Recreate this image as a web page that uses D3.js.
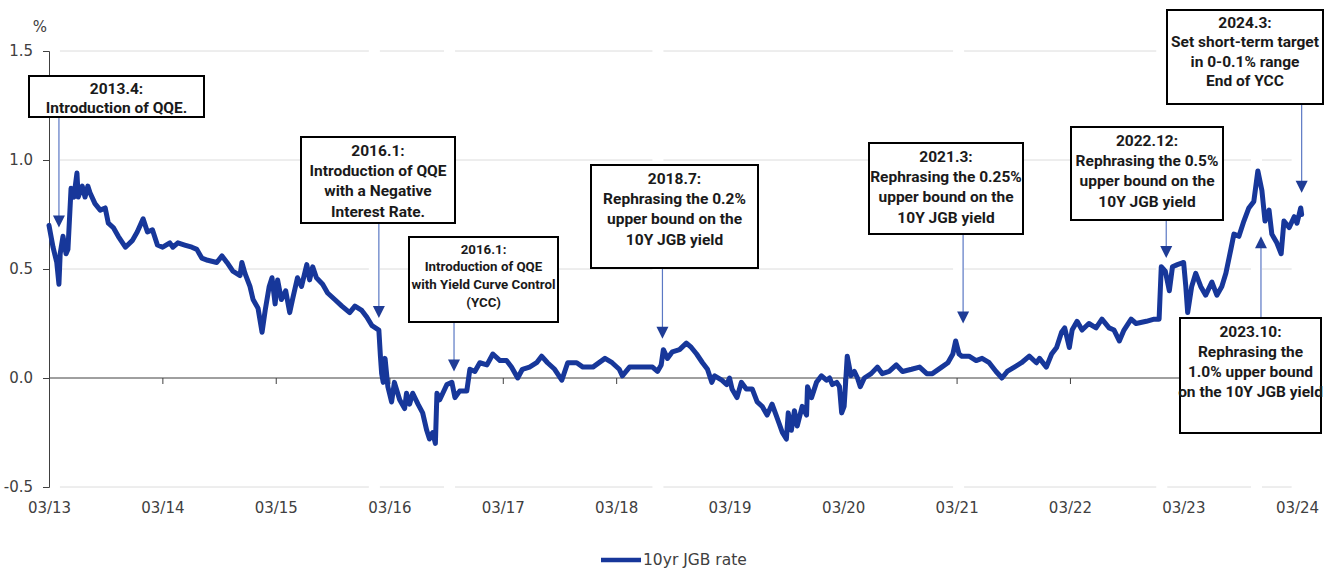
<!DOCTYPE html>
<html>
<head>
<meta charset="utf-8">
<script src="https://cdn.jsdelivr.net/npm/d3@7"></script>
<style>
  body { margin: 0; background: #fff; }
  .tick text { font-family: "DejaVu Sans", sans-serif; font-size: 15px; fill: #404040; }
  .note text { font-family: Roboto, "Noto Sans", sans-serif; font-weight: 700; fill: #1a1a1a; }
</style>
</head>
<body>
<svg id="chart" width="1333" height="569"></svg>
<script>
// 10yr JGB yield
const dates = [
  "2013-03-01","2013-03-14","2013-03-26","2013-04-02","2013-04-06","2013-04-15","2013-04-25","2013-05-01",
  "2013-05-11","2013-05-20","2013-05-30","2013-06-03","2013-06-16","2013-06-25","2013-07-04","2013-07-11",
  "2013-07-27","2013-08-13","2013-08-29","2013-09-08","2013-09-24","2013-10-10","2013-11-02","2013-11-24",
  "2013-12-10","2013-12-29","2014-01-12","2014-01-28","2014-02-13","2014-03-02","2014-03-25","2014-04-04",
  "2014-04-20","2014-05-12","2014-06-04","2014-06-20","2014-07-06","2014-07-25","2014-08-23","2014-09-09",
  "2014-09-25","2014-10-14","2014-11-06","2014-11-12","2014-11-22","2014-12-08","2014-12-18","2015-01-03",
  "2015-01-16","2015-01-26","2015-02-08","2015-02-17","2015-02-27","2015-03-07","2015-03-19","2015-04-02",
  "2015-04-15","2015-04-24","2015-05-10","2015-05-23","2015-06-09","2015-06-18","2015-06-28","2015-07-10",
  "2015-07-30","2015-08-15","2015-09-07","2015-09-30","2015-10-25","2015-11-11","2015-12-03","2015-12-19",
  "2016-01-05","2016-01-27","2016-02-01","2016-02-05","2016-02-10","2016-02-16","2016-02-25","2016-03-08",
  "2016-03-17","2016-04-03","2016-04-19","2016-04-25","2016-05-05","2016-05-15","2016-06-01","2016-06-16",
  "2016-06-29","2016-07-08","2016-07-18","2016-07-27","2016-08-01","2016-08-10","2016-09-02","2016-09-18",
  "2016-09-28","2016-10-13","2016-11-05","2016-11-15","2016-12-01","2016-12-17","2017-01-09","2017-01-28",
  "2017-02-20","2017-03-13","2017-03-29","2017-04-18","2017-05-03","2017-05-26","2017-06-18","2017-07-04",
  "2017-07-23","2017-08-15","2017-09-07","2017-09-26","2017-10-25","2017-11-14","2017-12-16","2018-01-24",
  "2018-02-16","2018-03-11","2018-03-21","2018-04-13","2018-05-15","2018-06-10","2018-06-26","2018-07-12",
  "2018-07-24","2018-07-31","2018-08-13","2018-08-29","2018-09-21","2018-10-13","2018-10-29","2018-11-15",
  "2018-12-04","2018-12-20","2019-01-03","2019-01-12","2019-02-04","2019-02-20","2019-03-01","2019-03-09",
  "2019-03-25","2019-04-08","2019-04-24","2019-05-13","2019-05-29","2019-06-14","2019-06-30","2019-07-16",
  "2019-07-29","2019-08-08","2019-08-18","2019-08-31","2019-09-06","2019-09-16","2019-09-26","2019-10-05",
  "2019-10-21","2019-11-04","2019-11-07","2019-11-20","2019-12-06","2019-12-22","2020-01-07","2020-01-17",
  "2020-01-26","2020-02-09","2020-02-18","2020-02-25","2020-03-04","2020-03-14","2020-03-26","2020-04-06",
  "2020-04-16","2020-04-25","2020-05-08","2020-05-30","2020-06-19","2020-07-05","2020-07-27","2020-08-19",
  "2020-09-08","2020-10-07","2020-11-02","2020-11-25","2020-12-13","2021-01-12","2021-02-01","2021-02-17",
  "2021-02-26","2021-03-09","2021-03-18","2021-04-10","2021-05-03","2021-05-22","2021-06-14","2021-07-06",
  "2021-07-25","2021-08-11","2021-09-03","2021-09-26","2021-10-21","2021-11-13","2021-11-23","2021-12-15",
  "2022-01-01","2022-01-17","2022-02-02","2022-02-12","2022-02-27","2022-03-08","2022-03-24","2022-04-09",
  "2022-05-01","2022-05-24","2022-06-12","2022-07-05","2022-07-21","2022-08-07","2022-08-22","2022-09-14",
  "2022-09-30","2022-11-02","2022-11-27","2022-12-13","2022-12-20","2023-01-02","2023-01-15","2023-01-25",
  "2023-02-10","2023-03-02","2023-03-09","2023-03-15","2023-03-28","2023-04-10","2023-04-26","2023-05-12",
  "2023-06-01","2023-06-17","2023-07-03","2023-07-16","2023-08-01","2023-08-11","2023-08-27","2023-09-12",
  "2023-09-28","2023-10-14","2023-10-27","2023-11-09","2023-11-19","2023-12-02","2023-12-11","2023-12-27",
  "2024-01-10","2024-01-19","2024-02-05","2024-02-21","2024-03-01","2024-03-13","2024-03-16"
];
const jgb10y = [
  0.70,0.60,0.53,0.43,0.57,0.65,0.57,0.59,
  0.87,0.83,0.94,0.83,0.88,0.83,0.88,0.85,
  0.80,0.77,0.78,0.71,0.69,0.65,0.60,0.63,
  0.67,0.73,0.67,0.68,0.61,0.60,0.62,0.60,
  0.62,0.61,0.60,0.59,0.55,0.54,0.53,0.56,
  0.53,0.49,0.47,0.53,0.48,0.42,0.36,0.32,
  0.21,0.31,0.42,0.46,0.34,0.45,0.36,0.40,
  0.30,0.36,0.46,0.42,0.52,0.45,0.51,0.46,
  0.43,0.39,0.36,0.33,0.30,0.33,0.31,0.28,
  0.24,0.22,0.10,0.02,-0.02,0.09,-0.04,-0.11,
  -0.02,-0.10,-0.14,-0.07,-0.12,-0.07,-0.12,-0.16,
  -0.24,-0.28,-0.25,-0.30,-0.07,-0.10,-0.03,-0.02,
  -0.09,-0.06,-0.06,0.04,0.03,0.07,0.06,0.11,
  0.08,0.08,0.05,0.00,0.04,0.05,0.07,0.10,
  0.07,0.04,-0.01,0.07,0.07,0.05,0.05,0.09,
  0.07,0.04,0.01,0.05,0.05,0.05,0.05,0.03,
  0.06,0.13,0.09,0.12,0.13,0.16,0.14,0.11,
  0.07,0.04,-0.02,0.01,-0.01,-0.03,0.00,-0.05,
  -0.09,-0.02,-0.05,-0.05,-0.11,-0.13,-0.17,-0.12,
  -0.17,-0.21,-0.25,-0.28,-0.16,-0.24,-0.15,-0.22,
  -0.13,-0.17,-0.04,-0.09,-0.02,0.01,-0.01,0.00,
  -0.03,-0.02,-0.04,-0.16,-0.13,0.10,0.01,0.03,
  0.00,-0.04,0.00,0.02,0.05,0.02,0.03,0.06,
  0.03,0.04,0.05,0.02,0.02,0.05,0.07,0.11,
  0.17,0.11,0.10,0.10,0.08,0.09,0.07,0.03,
  0.00,0.03,0.05,0.07,0.10,0.07,0.09,0.05,
  0.11,0.14,0.21,0.23,0.14,0.22,0.26,0.22,
  0.25,0.23,0.27,0.23,0.22,0.17,0.22,0.27,
  0.25,0.26,0.27,0.27,0.51,0.49,0.40,0.51,
  0.52,0.53,0.42,0.30,0.42,0.48,0.42,0.38,
  0.44,0.38,0.42,0.48,0.59,0.66,0.65,0.72,
  0.78,0.81,0.95,0.86,0.72,0.77,0.66,0.62,
  0.57,0.72,0.69,0.74,0.71,0.78,0.75
];
const xTickDates = ["2013-03-01","2014-03-01","2015-03-01","2016-03-01","2017-03-01","2018-03-01",
  "2019-03-01","2020-03-01","2021-03-01","2022-03-01","2023-03-01","2024-03-01"];
const yTickValues = [-0.5, 0, 0.5, 1.0, 1.5];
const seriesName = "10yr JGB rate";

// policy notes: date the arrow points at, value at the arrow tip
const noteDates = ["2013-04-02","2016-01-27","2016-09-25","2018-07-28","2021-03-22","2023-01-05","2023-11-06","2024-03-16"];
const noteTips = [0.69, 0.275, 0.03, 0.18, 0.25, 0.55, 0.65, 0.85];
const noteTexts = [
  ["2013.4:", "Introduction of QQE."],
  ["2016.1:", "Introduction of QQE", "with a Negative", "Interest Rate."],
  ["2016.1:", "Introduction of QQE", "with Yield Curve Control", "(YCC)"],
  ["2018.7:", "Rephrasing the 0.2%", "upper bound on the", "10Y JGB yield"],
  ["2021.3:", "Rephrasing the 0.25%", "upper bound on the", "10Y JGB yield"],
  ["2022.12:", "Rephrasing the 0.5%", "upper bound on the", "10Y JGB yield"],
  ["2023.10:", "Rephrasing the", "1.0% upper bound", "on the 10Y JGB yield"],
  ["2024.3:", "Set short-term target", "in 0-0.1% range", "End of YCC"]
];

//==========
// layout
//==========
const boxes = [
  {x0: 29, y0: 76, x1: 204, y1: 117, fs: 15.5, lh: 19},
  {x0: 301, y0: 137, x1: 455, y1: 223, fs: 15.5, lh: 20.3},
  {x0: 409, y0: 237, x1: 558, y1: 322, fs: 13.3, lh: 17.8},
  {x0: 591, y0: 165, x1: 758, y1: 268, fs: 15.5, lh: 20.3},
  {x0: 869, y0: 143, x1: 1023, y1: 234, fs: 15.5, lh: 20.3},
  {x0: 1071, y0: 127, x1: 1223, y1: 220, fs: 15.5, lh: 20.3},
  {x0: 1180, y0: 318, x1: 1321, y1: 433, fs: 15.5, lh: 20},
  {x0: 1167, y0: 10, x1: 1323, y1: 104, fs: 15.5, lh: 19.3}
];

const parse = d3.timeParse("%Y-%m-%d");
const data = dates.map((d, i) => ({date: parse(d), value: jgb10y[i]}));

const svg = d3.select("#chart");
const x = d3.scaleTime()
  .domain([parse(xTickDates[0]), parse(xTickDates[xTickDates.length - 1])])
  .range([49, 1297]);
const y = d3.scaleLinear().domain([-0.5, 1.5]).range([487, 51]);

// gridlines, broken where a note arrow crosses them
const gaps = noteDates.map(d => [x(parse(d)) - 10, x(parse(d)) + 1]);
yTickValues.filter(v => v !== 0).forEach(v => {
  let start = 52;
  const segs = [];
  gaps.slice().sort((a, b) => a[0] - b[0]).forEach(g => {
    if (g[0] > start && g[0] < 1297) segs.push([start, g[0]]);
    start = Math.max(start, g[1]);
  });
  if (start < 1297) segs.push([start, 1297]);
  segs.forEach(s => {
    svg.append("line")
      .attr("x1", s[0]).attr("x2", s[1])
      .attr("y1", y(v)).attr("y2", y(v))
      .attr("stroke", "#dcdcdc").attr("stroke-width", 1);
  });
});

// y axis
const yAxis = svg.append("g")
  .attr("transform", "translate(49,0)")
  .call(d3.axisLeft(y).tickValues(yTickValues).tickSize(6).tickPadding(10)
    .tickFormat(d => d.toFixed(1)));
yAxis.select(".domain").attr("stroke", "#404040");
yAxis.selectAll(".tick line").attr("stroke", "#404040");

svg.append("text")
  .attr("x", 40).attr("y", 32)
  .attr("text-anchor", "middle")
  .style("font-family", "DejaVu Sans, sans-serif")
  .style("font-size", "15px")
  .style("fill", "#404040")
  .text("%");

// x axis on the zero line
const xAxis = svg.append("g")
  .attr("transform", `translate(0,${y(0)})`)
  .call(d3.axisBottom(x).tickValues(xTickDates.map(parse)).tickSize(6)
    .tickFormat(d3.timeFormat("%m/%y")));
xAxis.select(".domain").attr("stroke", "#404040").attr("d", `M49,0H1297`);
xAxis.selectAll(".tick line").attr("stroke", "#404040");
xAxis.selectAll(".tick text").attr("y", y(-0.5) - y(0) + 15);

// the series
const line = d3.line().x(d => x(d.date)).y(d => y(d.value));
svg.append("path")
  .datum(data)
  .attr("d", line)
  .attr("fill", "none")
  .attr("stroke", "#17379a")
  .attr("stroke-width", 5)
  .attr("stroke-linejoin", "round")
  .attr("stroke-linecap", "round");

// notes
noteTexts.forEach((lines, i) => {
  const b = boxes[i];
  const ax = x(parse(noteDates[i]));
  const tip = y(noteTips[i]);
  const pointsUp = tip < b.y0 && b.y0 > 300;
  const from = pointsUp ? b.y0 : b.y1;
  const dir = pointsUp ? -1 : 1;
  const g = svg.append("g").attr("class", "note");

  g.append("line")
    .attr("x1", ax).attr("x2", ax)
    .attr("y1", from).attr("y2", tip - dir * 11)
    .attr("stroke", "#5b78c4").attr("stroke-width", 1.2);
  g.append("path")
    .attr("d", `M${ax - 6},${tip - dir * 12}L${ax + 6},${tip - dir * 12}L${ax},${tip}Z`)
    .attr("fill", "#1f3c96");

  g.append("rect")
    .attr("x", b.x0).attr("y", b.y0)
    .attr("width", b.x1 - b.x0).attr("height", b.y1 - b.y0)
    .attr("fill", "#fff").attr("stroke", "#000").attr("stroke-width", 2);

  const cx = (b.x0 + b.x1) / 2;
  lines.forEach((t, k) => {
    g.append("text")
      .attr("x", cx)
      .attr("y", b.y0 + b.lh * 0.55 + b.fs * 0.36 + 2 + k * b.lh)
      .attr("text-anchor", "middle")
      .style("font-size", b.fs + "px")
      .text(t);
  });
});

// legend
svg.append("line")
  .attr("x1", 601).attr("x2", 641)
  .attr("y1", 560).attr("y2", 560)
  .attr("stroke", "#17379a").attr("stroke-width", 4.5);
svg.append("text")
  .attr("x", 643).attr("y", 565)
  .style("font-family", "DejaVu Sans, sans-serif")
  .style("font-size", "15.5px")
  .style("fill", "#404040")
  .text(seriesName);
</script>
</body>
</html>
